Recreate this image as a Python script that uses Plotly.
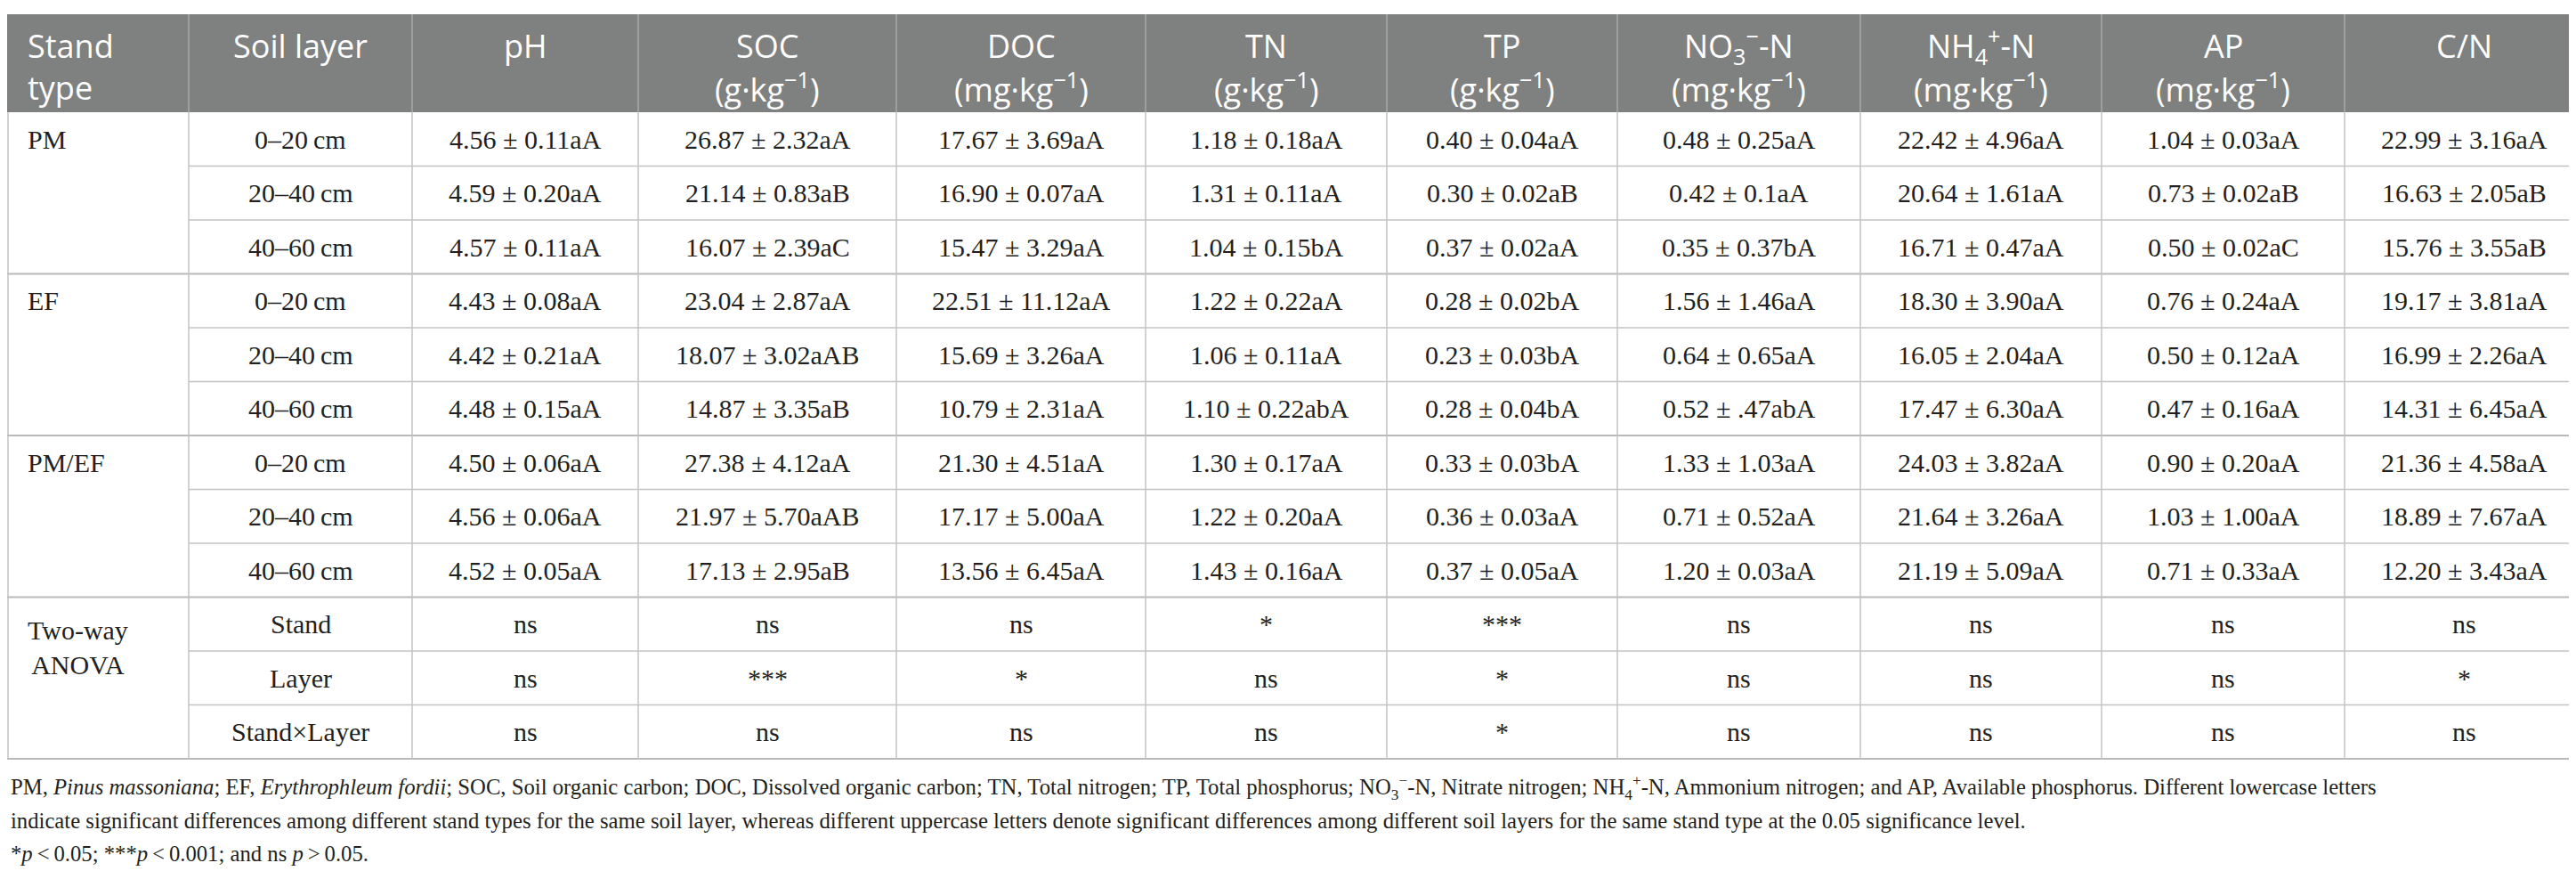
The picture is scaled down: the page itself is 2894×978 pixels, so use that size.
import plotly.graph_objects as go

# table content
stand_types = ["PM", "EF", "PM/EF"]
soil_layers = ["0–20 cm", "20–40 cm", "40–60 cm"]
anova_terms = ["Stand", "Layer", "Stand×Layer"]

hdr_top = ["Stand", "Soil layer", "pH", "SOC", "DOC", "TN", "TP",
           "NO<sub>3</sub><sup>−</sup>-N", "NH<sub>4</sub><sup>+</sup>-N", "AP", "C/N"]
hdr_bot = ["type", "", "", "(g·kg<sup>−1</sup>)", "(mg·kg<sup>−1</sup>)", "(g·kg<sup>−1</sup>)",
           "(g·kg<sup>−1</sup>)", "(mg·kg<sup>−1</sup>)", "(mg·kg<sup>−1</sup>)", "(mg·kg<sup>−1</sup>)", ""]

ph = ["4.56±0.11aA", "4.59±0.20aA", "4.57±0.11aA", "4.43±0.08aA", "4.42±0.21aA", "4.48±0.15aA",
      "4.50±0.06aA", "4.56±0.06aA", "4.52±0.05aA", "ns", "ns", "ns"]
soc = ["26.87±2.32aA", "21.14±0.83aB", "16.07±2.39aC", "23.04±2.87aA", "18.07±3.02aAB", "14.87±3.35aB",
       "27.38±4.12aA", "21.97±5.70aAB", "17.13±2.95aB", "ns", "***", "ns"]
doc = ["17.67±3.69aA", "16.90±0.07aA", "15.47±3.29aA", "22.51±11.12aA", "15.69±3.26aA", "10.79±2.31aA",
       "21.30±4.51aA", "17.17±5.00aA", "13.56±6.45aA", "ns", "*", "ns"]
tn = ["1.18±0.18aA", "1.31±0.11aA", "1.04±0.15bA", "1.22±0.22aA", "1.06±0.11aA", "1.10±0.22abA",
      "1.30±0.17aA", "1.22±0.20aA", "1.43±0.16aA", "*", "ns", "ns"]
tp = ["0.40±0.04aA", "0.30±0.02aB", "0.37±0.02aA", "0.28±0.02bA", "0.23±0.03bA", "0.28±0.04bA",
      "0.33±0.03bA", "0.36±0.03aA", "0.37±0.05aA", "***", "*", "*"]
no3 = ["0.48±0.25aA", "0.42±0.1aA", "0.35±0.37bA", "1.56±1.46aA", "0.64±0.65aA", "0.52±.47abA",
       "1.33±1.03aA", "0.71±0.52aA", "1.20±0.03aA", "ns", "ns", "ns"]
nh4 = ["22.42±4.96aA", "20.64±1.61aA", "16.71±0.47aA", "18.30±3.90aA", "16.05±2.04aA", "17.47±6.30aA",
       "24.03±3.82aA", "21.64±3.26aA", "21.19±5.09aA", "ns", "ns", "ns"]
ap = ["1.04±0.03aA", "0.73±0.02aB", "0.50±0.02aC", "0.76±0.24aA", "0.50±0.12aA", "0.47±0.16aA",
      "0.90±0.20aA", "1.03±1.00aA", "0.71±0.33aA", "ns", "ns", "ns"]
cn = ["22.99±3.16aA", "16.63±2.05aB", "15.76±3.55aB", "19.17±3.81aA", "16.99±2.26aA", "14.31±6.45aA",
      "21.36±4.58aA", "18.89±7.67aA", "12.20±3.43aA", "ns", "*", "ns"]

notes = [
    "PM, <i>Pinus massoniana</i>; EF, <i>Erythrophleum fordii</i>; SOC, Soil organic carbon; DOC, Dissolved organic carbon; "
    "TN, Total nitrogen; TP, Total phosphorus; NO<sub>3</sub><sup>−</sup>-N, Nitrate nitrogen; NH<sub>4</sub><sup>+</sup>-N, "
    "Ammonium nitrogen; and AP, Available phosphorus. Different lowercase letters",
    "indicate significant differences among different stand types for the same soil layer, whereas different uppercase "
    "letters denote significant differences among different soil layers for the same stand type at the 0.05 significance level.",
    "*<i>p</i>\u2009&lt;\u20090.05; ***<i>p</i>\u2009&lt;\u20090.001; and ns <i>p</i>\u2009&gt;\u20090.05.",
]

W, H = 2894, 978
col_x = [0, 204, 455, 709, 999, 1279, 1550, 1809, 2082, 2353, 2626, 2894]
hdr_y0, hdr_y1 = 8, 118
row_h = 60.5
n_rows = 12
row_y = [hdr_y1 + i * row_h for i in range(n_rows + 1)]

SERIF = "Liberation Serif, Times New Roman, serif"
SANS = "Open Sans, Noto Sans, sans-serif"
LINE = "#c3c3c3"
INK = "#231f20"

fig = go.Figure()
shapes = []
ann = []

# header band
shapes.append(dict(type="rect", x0=0, x1=W, y0=hdr_y0, y1=hdr_y1, fillcolor="#7f8180", line_width=0, layer="below"))
for x in col_x[1:-1]:
    shapes.append(dict(type="line", x0=x, x1=x, y0=hdr_y0, y1=hdr_y1, line=dict(color="#a7a9a8", width=1.5)))

for i, (t, b) in enumerate(zip(hdr_top, hdr_bot)):
    if i == 0:
        xa, xanc = 21, "left"
    else:
        xa, xanc = (col_x[i] + col_x[i + 1]) / 2, "center"
    ann.append(dict(x=xa, y=43, text=t, xanchor=xanc, yanchor="middle",
                    font=dict(family=SANS, size=36, color="white")))
    if b:
        ann.append(dict(x=xa, y=90, text=b, xanchor=xanc, yanchor="middle",
                        font=dict(family=SANS, size=36, color="white")))

# grid lines
for i, y in enumerate(row_y):
    if i == 0:
        continue
    group_edge = i % 3 == 0
    shapes.append(dict(type="line", x0=0 if group_edge else col_x[1], x1=W, y0=y, y1=y,
                       line=dict(color="#b9b9b9" if group_edge else LINE, width=2 if group_edge else 1.5)))
for x in col_x:
    xx = min(max(x, 1), W - 1)
    shapes.append(dict(type="line", x0=xx, x1=xx, y0=hdr_y1, y1=row_y[-1], line=dict(color=LINE, width=1.5)))

# body text
columns = [ph, soc, doc, tn, tp, no3, nh4, ap, cn]
groups = stand_types + ["Two-way<br>ANOVA"]
for g, name in enumerate(groups):
    yc = (row_y[g * 3] + row_y[g * 3 + 1]) / 2
    if g == 3:
        yc = (row_y[g * 3] + row_y[g * 3 + 2]) / 2 - 4
    ann.append(dict(x=21, y=yc, text=name, xanchor="left", yanchor="middle",
                    font=dict(family=SERIF, size=30, color=INK)))

layer_labels = soil_layers * 3 + anova_terms
for r in range(n_rows):
    yc = (row_y[r] + row_y[r + 1]) / 2
    ann.append(dict(x=(col_x[1] + col_x[2]) / 2, y=yc, text=layer_labels[r].replace(" ", "\u2009"),
                    xanchor="center", yanchor="middle", font=dict(family=SERIF, size=30, color=INK)))
    for c, vals in enumerate(columns):
        ann.append(dict(x=(col_x[c + 2] + col_x[c + 3]) / 2, y=yc, text=vals[r].replace("±", " ± "),
                        xanchor="center", yanchor="middle", font=dict(family=SERIF, size=30, color=INK)))

# footnote
for k, line in enumerate(notes):
    ann.append(dict(x=2, y=876 + k * 37, text=line, xanchor="left", yanchor="middle",
                    font=dict(family=SERIF, size=24.7, color=INK)))

for a in ann:
    a.update(xref="x", yref="y", showarrow=False)

fig.update_layout(
    width=W, height=H, margin=dict(l=0, r=0, t=0, b=0),
    plot_bgcolor="white", paper_bgcolor="white",
    xaxis=dict(range=[0, W], visible=False, fixedrange=True),
    yaxis=dict(range=[H, 0], visible=False, fixedrange=True),
    shapes=shapes, annotations=ann, showlegend=False,
)
fig.write_html("out.html")
